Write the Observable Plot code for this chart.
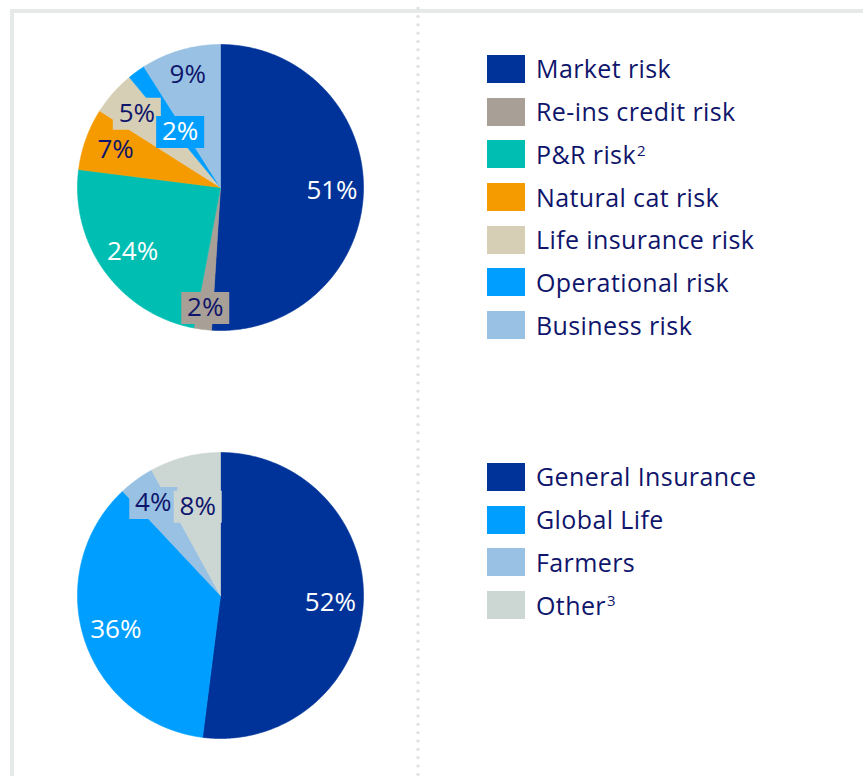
<!DOCTYPE html>
<html>
<head>
<meta charset="utf-8">
<script src="https://cdn.jsdelivr.net/npm/d3@7"></script>
<script src="https://cdn.jsdelivr.net/npm/@observablehq/plot@0.6"></script>
<style>
  html, body { margin: 0; padding: 0; background: #fff; }
  #page { position: relative; width: 863px; height: 776px; overflow: hidden; font-family: "Open Sans", sans-serif; }
  .frame-top { position: absolute; left: 10px; top: 9px; width: 853px; height: 4px; background: #e5eae8; }
  .frame-left { position: absolute; left: 10px; top: 9px; width: 4px; height: 767px; background: #e5eae8; }
  .divider { position: absolute; left: 416px; top: 4px; width: 4px; height: 772px;
    background-image: radial-gradient(circle, #dde3e1 1.4px, transparent 1.9px);
    background-size: 4px 8.33px; background-repeat: repeat-y; }
  .section { position: absolute; left: 0; width: 863px; height: 388px; }
  .section svg { position: absolute; left: 0; top: 0; }
  .legend { position: absolute; left: 487px; }
  .row { display: flex; align-items: center; height: 42.7px; }
  .sw { width: 38px; height: 28px; margin-right: 11px; flex: none; }
  .lab { font-size: 25px; letter-spacing: 0.4px; color: #0f156b; white-space: nowrap; line-height: 1; }
  .lab sup { font-size: 0.6em; vertical-align: 0.55em; line-height: 0; margin-left: 1px; }
</style>
</head>
<body>
<div id="page">
  <div class="frame-top"></div>
  <div class="frame-left"></div>
  <div class="divider"></div>
</div>
<script>
// Risk profile split
const riskNames = ["Market risk", "Re-ins credit risk", "P&R risk", "Natural cat risk", "Life insurance risk", "Operational risk", "Business risk"];
const riskShares = [51, 2, 24, 7, 5, 2, 9];
const riskColors = ["#003399", "#a89f96", "#00bfb2", "#f59b00", "#d6cfb6", "#009fff", "#98c1e3"];
const riskNotes = ["", "", "2", "", "", "", ""];

// Split by business segment
const segmentNames = ["General Insurance", "Global Life", "Farmers", "Other"];
const segmentShares = [52, 36, 4, 8];
const segmentColors = ["#003399", "#009fff", "#98c1e3", "#ccd6d3"];
const segmentNotes = ["", "", "", "3"];

// Label placement: fraction of the radius along each slice's mid-angle,
// whether the label sits on a slice-coloured box, and its ink colour.
const NAVY = "#0f156b";
const riskLabelStyle = {
  "Market risk":         {r: 0.78, box: false, ink: "#fff"},
  "Re-ins credit risk":  {r: 0.85, box: true,  ink: NAVY},
  "P&R risk":            {r: 0.76, box: false, ink: "#fff"},
  "Natural cat risk":    {r: 0.78, box: false, ink: NAVY},
  "Life insurance risk": {r: 0.78, box: true,  ink: NAVY},
  "Operational risk":    {r: 0.48, box: true,  ink: "#fff"},
  "Business risk":       {r: 0.82, box: false, ink: NAVY}
};
const segmentLabelStyle = {
  "General Insurance": {r: 0.77, box: false, ink: "#fff"},
  "Global Life":       {r: 0.77, box: false, ink: "#fff"},
  "Farmers":           {r: 0.80, box: true,  ink: NAVY},
  "Other":             {r: 0.64, box: true,  ink: NAVY}
};

const FONT = "'Open Sans', sans-serif";
const CX = 220, R = 143;

// Rectangular backdrop drawn behind small-slice labels
const labelBox = {
  draw(context) { context.rect(-24, -16, 48, 32); }
};

function drawPie({names, shares, colors, labelStyle, cy}) {
  const arcs = d3.pie().sort(null).value(d => d.share)
    (names.map((name, i) => ({name, share: shares[i]})));

  // Each slice becomes a closed polygon: centre, sampled arc, centre.
  const outline = arcs.flatMap(a => {
    const name = a.data.name;
    const n = Math.max(2, Math.ceil((a.endAngle - a.startAngle) / (Math.PI / 360)));
    const pts = [{name, x: 0, y: 0}];
    for (let k = 0; k <= n; k++) {
      const t = a.startAngle + (a.endAngle - a.startAngle) * k / n;
      pts.push({name, x: Math.sin(t), y: Math.cos(t)});
    }
    pts.push({name, x: 0, y: 0});
    return pts;
  });

  const labels = arcs.map(a => {
    const m = (a.startAngle + a.endAngle) / 2;
    const s = labelStyle[a.data.name];
    return {name: a.data.name, share: a.data.share,
            x: s.r * Math.sin(m), y: s.r * Math.cos(m), box: s.box, ink: s.ink};
  });

  const text = (ink) => Plot.text(labels.filter(d => d.ink === ink), {
    x: "x", y: "y", text: d => `${d.share}%`, fill: ink,
    fontSize: 26, fontFamily: FONT, textAnchor: "middle", lineAnchor: "middle"
  });

  return Plot.plot({
    width: 414, height: 388, margin: 0,
    style: {background: "transparent", fontFamily: FONT},
    x: {domain: [-1, 1], range: [CX - R, CX + R], axis: null},
    y: {domain: [-1, 1], range: [cy + R, cy - R], axis: null},
    color: {domain: names, range: colors},
    marks: [
      Plot.line(outline, {x: "x", y: "y", z: "name", fill: "name", stroke: "name", strokeWidth: 0.6, curve: "linear"}),
      Plot.dot(labels.filter(d => d.box), {x: "x", y: "y", fill: "name", symbol: labelBox, r: 10}),
      text("#fff"),
      text(NAVY)
    ]
  });
}

function drawLegend(names, colors, notes) {
  const legend = document.createElement("div");
  legend.className = "legend";
  names.forEach((name, i) => {
    const row = document.createElement("div");
    row.className = "row";
    const sw = document.createElement("div");
    sw.className = "sw";
    sw.style.background = colors[i];
    const lab = document.createElement("div");
    lab.className = "lab";
    lab.textContent = name;
    if (notes[i]) {
      const sup = document.createElement("sup");
      sup.textContent = notes[i];
      lab.appendChild(sup);
    }
    row.append(sw, lab);
    legend.appendChild(row);
  });
  return legend;
}

const page = document.getElementById("page");

const riskSection = document.createElement("div");
riskSection.className = "section";
riskSection.style.top = "0px";
riskSection.appendChild(drawPie({names: riskNames, shares: riskShares, colors: riskColors, labelStyle: riskLabelStyle, cy: 187}));
const riskLegend = drawLegend(riskNames, riskColors, riskNotes);
riskLegend.style.top = "47.6px";
riskSection.appendChild(riskLegend);
page.appendChild(riskSection);

const segmentSection = document.createElement("div");
segmentSection.className = "section";
segmentSection.style.top = "388px";
segmentSection.appendChild(drawPie({names: segmentNames, shares: segmentShares, colors: segmentColors, labelStyle: segmentLabelStyle, cy: 207}));
const segmentLegend = drawLegend(segmentNames, segmentColors, segmentNotes);
segmentLegend.style.top = "67.6px";
segmentSection.appendChild(segmentLegend);
page.appendChild(segmentSection);
</script>
</body>
</html>
